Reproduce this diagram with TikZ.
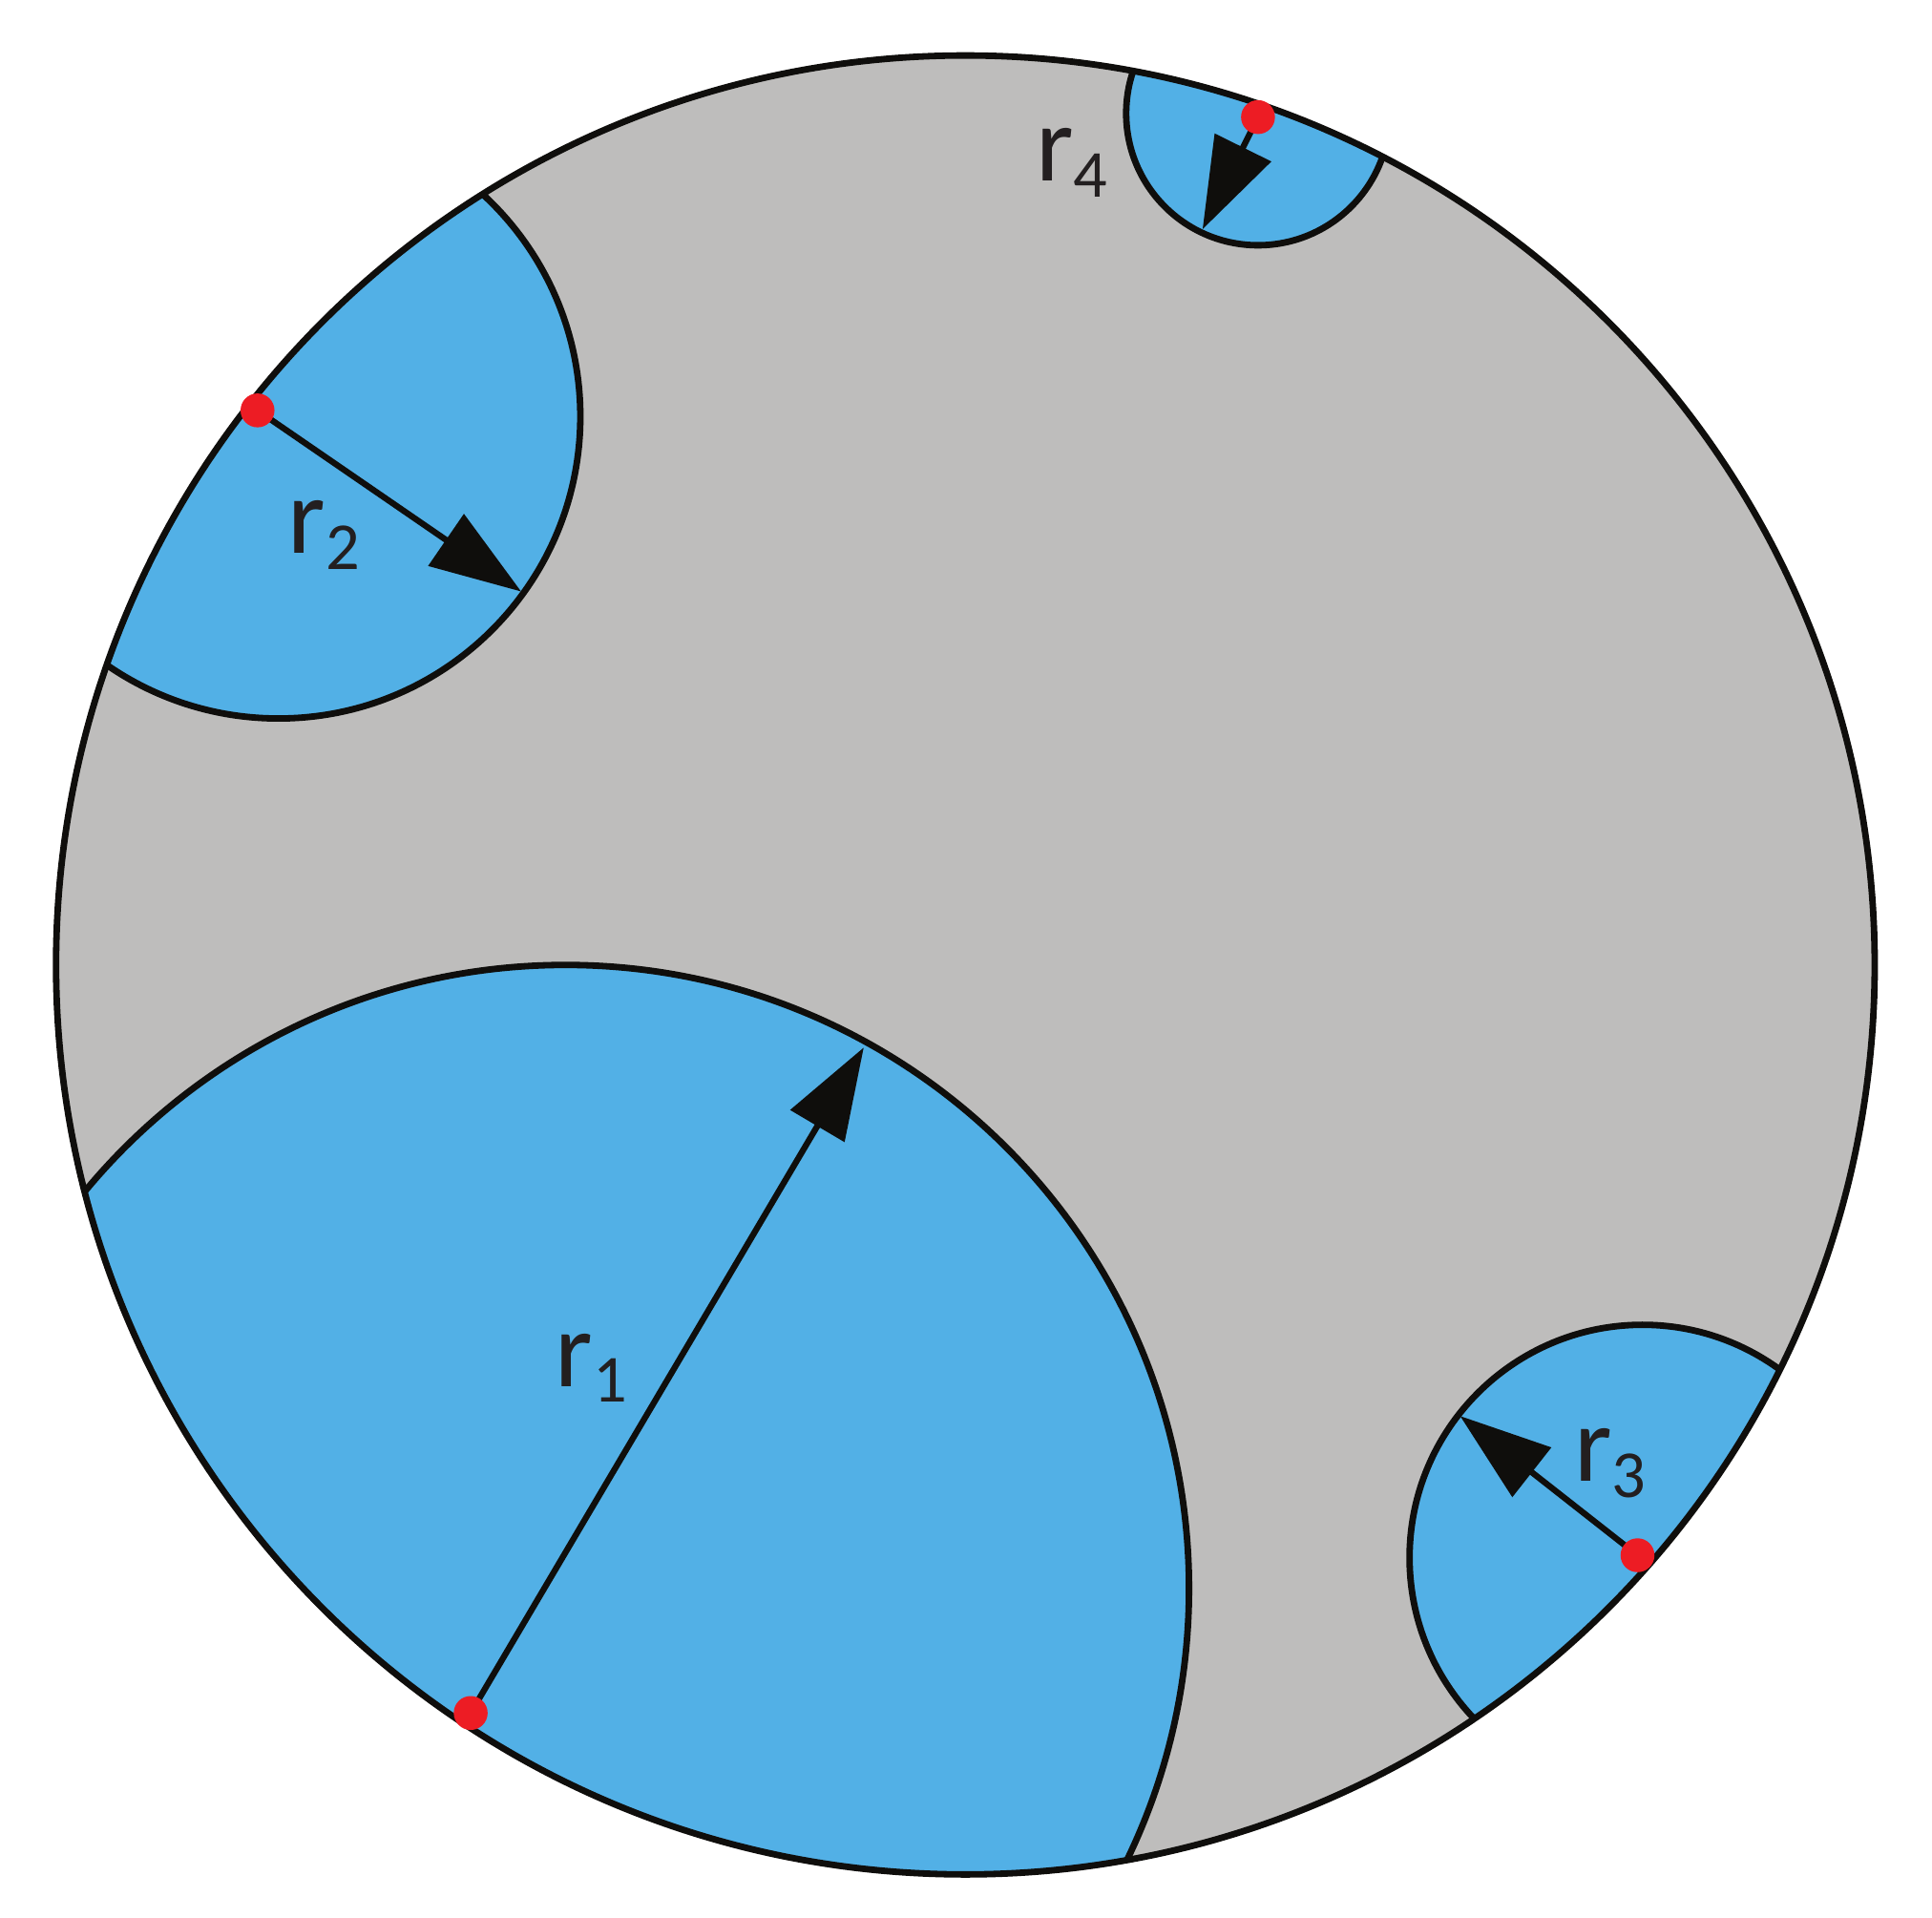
\documentclass[tikz,border=0pt]{standalone}
\usepackage{fontspec}
\setmainfont{Carlito}
\usetikzlibrary{arrows.meta}
\definecolor{bgray}{RGB}{190,189,188}
\definecolor{cblue}{RGB}{82,176,230}
\definecolor{rdot}{RGB}{237,28,36}
\definecolor{lineblk}{RGB}{15,14,12}
\definecolor{txt}{RGB}{35,31,32}
\newcommand{\rlabtext}[1]{{\fontsize{25}{25}\selectfont r}\raisebox{-0.13cm}{\fontsize{15.5}{15.5}\selectfont #1}}
\begin{document}
\begin{tikzpicture}[x=0.01cm,y=-0.01cm,
  outline/.style={draw=lineblk, line width=1.5pt},
  radarrow/.style={draw=lineblk, line width=1.4pt, -{Triangle[length=0.74cm,width=0.5cm]}},
  reddot/.style={circle, fill=rdot, minimum size=0.275cm, inner sep=0pt},
  lab/.style={text=txt, anchor=base west, inner sep=0pt}]
\useasboundingbox (0,0) rectangle (1568,1556);
\coordinate (O) at (783.5,783);
\fill[bgray] (O) circle[radius=738];
\begin{scope}
  \clip (O) circle[radius=738];
  \filldraw[fill=cblue, outline] (459,1289) circle[radius=506];
  \filldraw[fill=cblue, outline] (226,338) circle[radius=245];
  \filldraw[fill=cblue, outline] (1333,1264) circle[radius=189];
  \filldraw[fill=cblue, outline] (1021,92) circle[radius=107];
\end{scope}
\draw[outline] (O) circle[radius=738];
% arrow endpoints
\coordinate (s1) at (382,1390); \coordinate (e1) at (701,850);
\coordinate (s2) at (209,333);  \coordinate (e2) at (423,480);
\coordinate (s3) at (1329,1262); \coordinate (e3) at (1185,1149);
\coordinate (s4) at (1021,95);  \coordinate (e4) at (976,186);
\draw[radarrow] (s1) -- (e1);
\draw[radarrow] (s2) -- (e2);
\draw[radarrow] (s3) -- (e3);
\draw[radarrow] (s4) -- (e4);
\node[reddot] (d1) at (s1) {};
\node[reddot] (d2) at (s2) {};
\node[reddot] (d3) at (s3) {};
\node[reddot] (d4) at (s4) {};
\node[lab] (l1) at (450,1125) {\rlabtext{1}};
\node[lab] (l2) at (233,449) {\rlabtext{2}};
\node[lab] (l3) at (1277,1202) {\rlabtext{3}};
\node[lab] (l4) at (840,147) {\rlabtext{4}};
\end{tikzpicture}
\end{document}
